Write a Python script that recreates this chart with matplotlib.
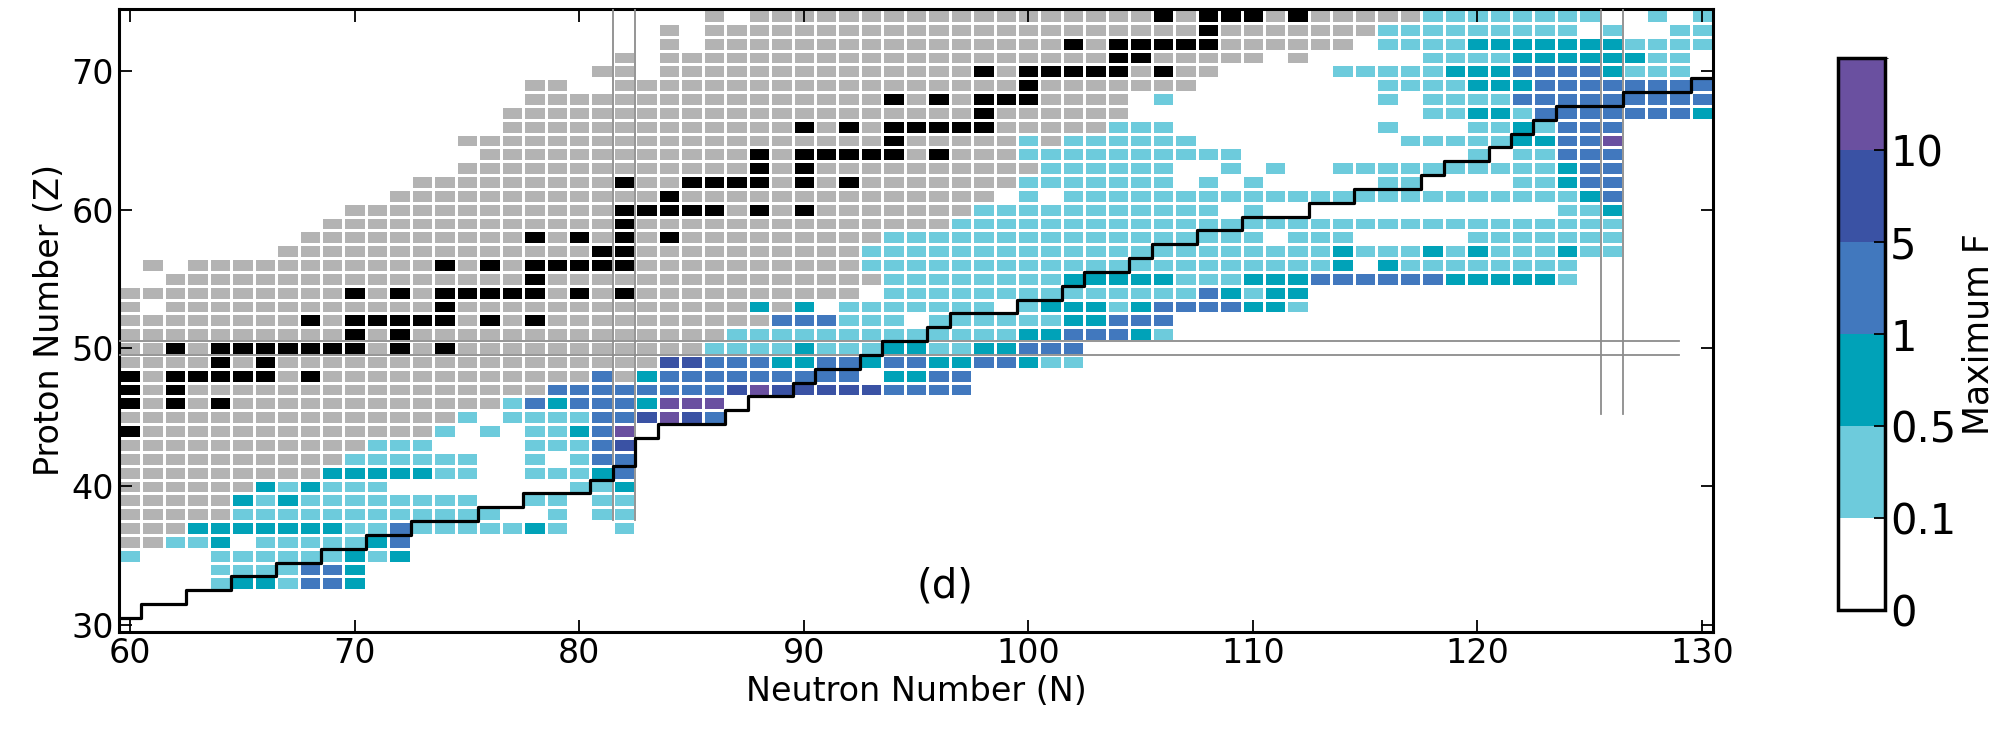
import numpy as np
import matplotlib.pyplot as plt
from matplotlib.colors import ListedColormap, BoundaryNorm
from matplotlib.cm import ScalarMappable

# proton numbers of the chart rows, top to bottom
z_rows = list(range(74, 32, -1))

# measured nuclei (grey), as N runs per row
known_runs = [
    "86 88-117", "84 86-115", "84 86-114", "82 84-110 112", "81-82 84-108",
    "78-79 82-107", "78-104", "77-104", "77-103", "75-99 101", "76-99",
    "75-100", "73-99", "72-98", "70-97", "69-96", "68-93", "67-92",
    "61 63-92", "62-93", "60-92", "60 62-87 89", "60-88", "60-86", "60-85",
    "60-83", "60-80 82", "60-78", "60-76", "60-74", "60-73", "60-70",
    "60-69", "60-68", "60-65", "60-64", "60-64", "60-62", "60-61", "", "", "",
]

# stable nuclei (black), N per row
stable_n = [
    [106, 108, 109, 110, 112], [108], [102, 104, 105, 106, 107, 108], [104, 105],
    [98, 100, 101, 102, 103, 104, 106], [100], [94, 96, 98, 99, 100], [98],
    [90, 92, 94, 95, 96, 97, 98], [94], [88, 90, 91, 92, 93, 94, 96], [88, 90],
    [82, 85, 86, 87, 88, 90, 92], [84], [82, 83, 84, 85, 86, 88, 90], [82],
    [78, 80, 82, 84], [81, 82], [74, 76, 78, 79, 80, 81, 82], [78],
    [70, 72, 74, 75, 76, 77, 78, 80, 82], [74], [68, 70, 71, 72, 73, 74, 76, 78],
    [70, 72], [62, 64, 65, 66, 67, 68, 69, 70, 72, 74], [64, 66],
    [60, 62, 63, 64, 65, 66, 68], [60, 62], [60, 62, 64], [], [60],
    [], [], [], [], [], [], [], [], [], [], [],
]

# maximum F class per nucleus: a 0.1-0.5, b 0.5-1, c 1-5, d 5-10, e >10
fmax_runs = [
    "118-125a 128a 130a",
    "116-124a 126a 129-130a",
    "116-119a 120-126b 127-130a",
    "118-121a 122-127b 128-129a",
    "114-118a 119-121b 122-125c 126b 127-129a",
    "116-119a 120-122b 123-130c",
    "106a 116a 118-121a 122-130c",
    "118-119a 120-121b 122a 123-129c 130b",
    "104-106a 116a 120-121a 122b 123a 124-126c",
    "100a 102-107a 117-121a 122-123b 124-125c 126e",
    "100-109a 120a 122-123a 124-126c",
    "101-106a 109a 111a 114-123a 124b 125-126c",
    "100-106a 108a 110a 116-117a 122-123a 124b 125-126c",
    "100a 102-124a 125b 126c",
    "98-108a 110a 124-125a 126b",
    "97-126a",
    "94-110a 112-114a 120-126a",
    "93-113a 114b 115-117a 118b 119a 120b 121-123a 124b 125-126a",
    "93-113a 114b 116b 117-124a",
    "94-101a 102-106b 107-109a 110-112b 113-118c 119-123b 124a",
    "94-107a 108c 109b 110a 111-112b",
    "88b 90b 92-98a 100a 101-103b 104a 105b 106-109c 110-111b 112a",
    "89-91c 92-94a 96-101a 102-103b 104-106c",
    "87-99a 100-101b 102-104c 105b 106a",
    "86-89a 90b 91-93a 94-95b 96-97a 98-99b 100-102c",
    "84-85d 86-88c 89-90b 91-92c 93b 94-95c 96-97b 98-99c 100b 101-102a",
    "81c 83b 84-92c 94-95b 96-97c",
    "79-86c 87d 88e 89-93d 94-97c",
    "77a 78c 79b 80-82c 83b 84-86e",
    "75a 77-80a 81-82c 83d 84e 85d 86c",
    "74a 76a 78-79a 80b 81c 82e",
    "71-73a 78-80a 81c 82d",
    "70-75a 78a 80a 81-82c",
    "69-73b 74-75a 78-80a 81b 82c",
    "66b 67a 68b 69-71a 80-81a 82b",
    "65b 66a 67b 68-75a 78-79a 81-82a",
    "65-76a 79a 81-82a",
    "63-69b 70-71a 72c 73-77a 78b 79a 82a",
    "62-63a 64b 66-70a 71b 72c",
    "60a 64-69a 70b 71a 72b",
    "64-67a 68-69c 70b",
    "64a 65-66b 67a 68-69c 70b",
]

# stepped boundary line: last N of each Z level
drip_z = list(range(30, 70))
drip_n = [60, 62, 64, 66, 68, 70, 72, 75, 77, 80, 81, 82, 82, 83, 86, 87, 89, 90,
          92, 93, 95, 96, 99, 101, 102, 104, 105, 107, 109, 112, 114, 117, 118,
          120, 121, 122, 123, 126, 129, 130]

f_edges = [0, 0.1, 0.5, 1, 5, 10, 20]
f_labels = ["0", "0.1", "0.5", "1", "5", "10"]

grey = "#b3b3b3"
f_colors = ["white", "#6dcbdc", "#00a2b8", "#4178be", "#3a52a4", "#6a50a0"]
cls_code = {"a": 2, "b": 3, "c": 4, "d": 5, "e": 6}


def span(tok):
    a, _, b = tok.partition("-")
    return int(a), int(b or a)


n_vals = np.arange(60, 131)
z_vals = np.arange(min(z_rows), max(z_rows) + 1)
grid = np.full((len(z_vals), len(n_vals)), np.nan)

for z, kn, st, fr in zip(z_rows, known_runs, stable_n, fmax_runs):
    r = z - z_vals[0]
    for tok in kn.split():
        a, b = span(tok)
        grid[r, a - 60:b - 59] = 0
    for n in st:
        grid[r, n - 60] = 1
    for tok in fr.split():
        a, b = span(tok[:-1])
        grid[r, a - 60:b - 59] = cls_code[tok[-1]]

fig = plt.figure(figsize=(20.09, 7.31), dpi=100)
ax = fig.add_axes([0.0592, 0.1358, 0.7935, 0.8519])

cell_cmap = ListedColormap([grey, "black"] + f_colors[1:])
ax.pcolormesh(np.arange(59.5, 131), np.arange(z_vals[0] - 0.5, z_vals[-1] + 1),
              np.ma.masked_invalid(grid), cmap=cell_cmap,
              norm=BoundaryNorm(np.arange(-0.5, 7.5), 7),
              edgecolors="white", linewidth=0.8)

# magic-number guide lines
for n in (82, 126):
    z0 = 37.6 if n == 82 else 45.2
    for off in (-0.5, 0.5):
        ax.plot([n + off, n + off], [z0, 74.5], color="#8c8c8c", lw=1.3, zorder=3)
for off in (-0.5, 0.5):
    ax.plot([59.5, 129], [50 + off, 50 + off], color="#8c8c8c", lw=1.3, zorder=3)

xs, ys = [59.5], [30.5]
for n, z in zip(drip_n, drip_z):
    xs += [n + 0.5, n + 0.5]
    ys += [z + 0.5, z + 1.5]
ax.plot(xs[:-1], ys[:-1], color="black", lw=2.3, zorder=4)

ax.text(96.3, 32.8, "(d)", fontsize=29, ha="center", va="center")

ax.set_xlim(59.5, 130.5)
ax.set_ylim(29.5, 74.5)
ax.set_xticks(range(60, 131, 10))
ax.set_yticks(range(30, 71, 10))
ax.tick_params(direction="in", length=9, width=1.3, labelsize=24,
               top=True, right=True)
for s in ax.spines.values():
    s.set_linewidth(2.2)
ax.set_xlabel("Neutron Number (N)", fontsize=24)
ax.set_ylabel("Proton Number (Z)", fontsize=24)

cax = fig.add_axes([0.915, 0.1655, 0.0234, 0.755])
sm = ScalarMappable(norm=BoundaryNorm(f_edges, 6), cmap=ListedColormap(f_colors))
cb = fig.colorbar(sm, cax=cax, ticks=f_edges[:-1])
cb.ax.set_yticklabels(f_labels)
cb.ax.tick_params(direction="in", length=8, width=1.3, labelsize=30)
cb.outline.set_linewidth(2.5)
cb.set_label("Maximum F", fontsize=25)

fig.savefig("out.png", dpi=100)
